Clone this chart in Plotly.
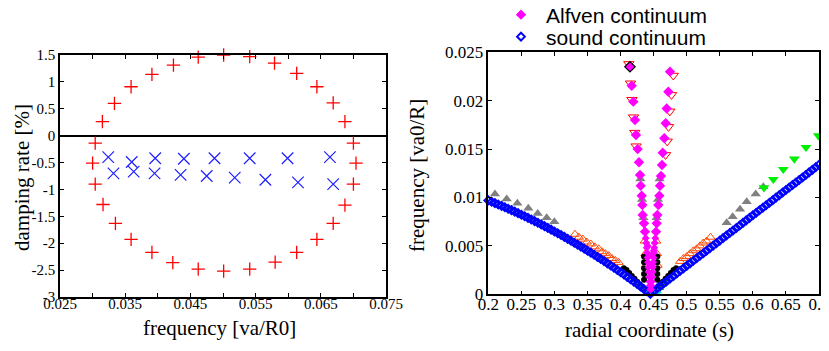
import plotly.graph_objects as go

# ---------------- left panel: damping rate vs frequency ----------------
ellipse_freq = [0.0315, 0.03335, 0.0359, 0.0391, 0.0424, 0.0462, 0.0501, 0.0541, 0.0579, 0.0613,
                0.0644, 0.0669, 0.0687,
                0.0304, 0.0300, 0.0304, 0.0700, 0.0704, 0.0700,
                0.0316, 0.0335, 0.0359, 0.0391, 0.0423, 0.0462, 0.0501, 0.0541, 0.0580, 0.0613,
                0.0644, 0.0669, 0.0687]
ellipse_damp = [0.26, 0.60, 0.91, 1.14, 1.31, 1.46, 1.50, 1.47, 1.35, 1.16,
                0.91, 0.61, 0.26,
                -0.14, -0.51, -0.90, -0.14, -0.51, -0.90,
                -1.28, -1.63, -1.93, -2.17, -2.36, -2.48, -2.52, -2.48, -2.35, -2.17,
                -1.93, -1.63, -1.29]

xmode_freq = [0.0324, 0.0360, 0.0396, 0.0440, 0.0487, 0.0541, 0.0599, 0.0664,
              0.0332, 0.0363, 0.0395, 0.0435, 0.0475, 0.0518, 0.0565, 0.0615, 0.0669]
xmode_damp = [-0.40, -0.49, -0.42, -0.43, -0.42, -0.42, -0.42, -0.40,
              -0.70, -0.67, -0.70, -0.73, -0.75, -0.78, -0.82, -0.87, -0.90]

left_xticks = [0.025, 0.03, 0.035, 0.04, 0.045, 0.05, 0.055, 0.06, 0.065, 0.07, 0.075]
left_xlabels = ["0.025", "", "0.035", "", "0.045", "", "0.055", "", "0.065", "", "0.075"]
left_yticks = [-3, -2.5, -2, -1.5, -1, -0.5, 0, 0.5, 1, 1.5]
left_ylabels = ["-3", "-2.5", "-2", "-1.5", "-1", "-0.5", "0", "0.5", "1", "1.5"]

# ---------------- right panel: continua vs radial coordinate ----------------
sound_s = [0.200, 0.205, 0.210, 0.215, 0.220, 0.225, 0.230, 0.235, 0.240, 0.245,
           0.250, 0.255, 0.260, 0.265, 0.270, 0.275, 0.280, 0.285, 0.290, 0.295,
           0.300, 0.305, 0.310, 0.315, 0.320, 0.325, 0.330, 0.335, 0.340, 0.345,
           0.350, 0.355, 0.360, 0.365, 0.370, 0.375, 0.380, 0.385, 0.390, 0.395,
           0.400, 0.405, 0.410, 0.415, 0.420, 0.425, 0.430, 0.435, 0.440, 0.445,
           0.450, 0.455, 0.460, 0.465, 0.470, 0.475, 0.480, 0.485, 0.490, 0.495,
           0.500, 0.505, 0.510, 0.515, 0.520, 0.525, 0.530, 0.535, 0.540, 0.545,
           0.550, 0.555, 0.560, 0.565, 0.570, 0.575, 0.580, 0.585, 0.590, 0.595,
           0.600, 0.605, 0.610, 0.615, 0.620, 0.625, 0.630, 0.635, 0.640, 0.645,
           0.650, 0.655, 0.660, 0.665, 0.670, 0.675, 0.680, 0.685, 0.690, 0.695, 0.700]
sound_f = [0.00970, 0.00956, 0.00942, 0.00928, 0.00914, 0.00899, 0.00884, 0.00869, 0.00854, 0.00838,
           0.00822, 0.00806, 0.00790, 0.00773, 0.00756, 0.00739, 0.00722, 0.00704, 0.00686, 0.00668,
           0.00649, 0.00631, 0.00612, 0.00593, 0.00573, 0.00553, 0.00533, 0.00513, 0.00493, 0.00472,
           0.00451, 0.00430, 0.00408, 0.00387, 0.00365, 0.00343, 0.00320, 0.00297, 0.00274, 0.00251,
           0.00228, 0.00204, 0.00180, 0.00156, 0.00131, 0.00106, 0.00081, 0.00056, 0.00031, 0.00005,
           0.00033, 0.00059, 0.00085, 0.00111, 0.00137, 0.00163, 0.00189, 0.00216, 0.00242, 0.00268,
           0.00294, 0.00320, 0.00346, 0.00372, 0.00398, 0.00424, 0.00450, 0.00477, 0.00503, 0.00529,
           0.00555, 0.00581, 0.00607, 0.00633, 0.00659, 0.00685, 0.00711, 0.00738, 0.00764, 0.00790,
           0.00816, 0.00842, 0.00868, 0.00894, 0.00920, 0.00946, 0.00972, 0.00999, 0.01025, 0.01051,
           0.01077, 0.01103, 0.01129, 0.01155, 0.01181, 0.01207, 0.01233, 0.01260, 0.01286, 0.01312, 0.01338]

alfven_s = [0.4142, 0.4168, 0.4193, 0.4218, 0.4233, 0.4258, 0.4278, 0.4294, 0.4304, 0.4319,
            0.4329, 0.4334, 0.4354, 0.4369,
            0.4747, 0.4722, 0.4697, 0.4682, 0.4661, 0.4637, 0.4626, 0.4611, 0.4596, 0.4586,
            0.4571, 0.4555, 0.4546, 0.4536]
alfven_f = [0.02350, 0.02155, 0.01990, 0.01800, 0.01646, 0.01500, 0.01364, 0.01232, 0.01122, 0.01019,
            0.00922, 0.00819, 0.00733, 0.00647,
            0.02300, 0.02093, 0.01920, 0.01767, 0.01612, 0.01463, 0.01336, 0.01222, 0.01122, 0.01019,
            0.00922, 0.00819, 0.00733, 0.00647]
alfven_dense_s = [0.4380, 0.4388, 0.4395, 0.4401, 0.4408, 0.4414, 0.4420, 0.4427, 0.4433, 0.4439,
                  0.4444, 0.4450, 0.4525, 0.4517, 0.4510, 0.4504, 0.4498, 0.4492, 0.4487, 0.4481,
                  0.4476, 0.4471, 0.4466, 0.4461, 0.4410, 0.4440, 0.4470, 0.4500]
alfven_dense_f = [0.0058, 0.0053, 0.0048, 0.0043, 0.0038, 0.0033, 0.0028, 0.0023, 0.0018, 0.0013,
                  0.0009, 0.0005, 0.0058, 0.0053, 0.0048, 0.0043, 0.0038, 0.0033, 0.0028, 0.0023,
                  0.0018, 0.0013, 0.0009, 0.0005, 0.0050, 0.0040, 0.0030, 0.0045]

redtri_s = [0.4125, 0.4150, 0.4172, 0.4195, 0.4215, 0.4235,
            0.4797, 0.4770, 0.4745, 0.4725, 0.4705, 0.4680]
redtri_f = [0.0238, 0.0218, 0.0201, 0.0183, 0.0167, 0.0153,
            0.0226, 0.0206, 0.0189, 0.0173, 0.0158, 0.0144]

gray_s = [0.2101, 0.2278, 0.2439, 0.2605, 0.2747, 0.2883, 0.2998,
          0.5604, 0.5695, 0.5806, 0.5907, 0.6043, 0.6158,
          0.4300, 0.4325, 0.4345, 0.4590, 0.4565, 0.4545]
gray_f = [0.01036, 0.00984, 0.00940, 0.00888, 0.00836, 0.00792, 0.00750,
          0.00740, 0.00800, 0.00878, 0.00957, 0.01036, 0.01112,
          0.01190, 0.00980, 0.00790, 0.01190, 0.00980, 0.00790]

green_s = [0.6168, 0.6309, 0.6460, 0.6627, 0.6803, 0.6990]
green_f = [0.01101, 0.01188, 0.01291, 0.01398, 0.01519, 0.01639]

orange_s = [0.331, 0.337, 0.343, 0.349, 0.355, 0.361, 0.367, 0.372, 0.377, 0.382, 0.387, 0.392, 0.397,
            0.490, 0.495, 0.500, 0.505, 0.510, 0.515, 0.520, 0.525, 0.530, 0.536,
            0.4365, 0.4375, 0.4385, 0.4540, 0.4550, 0.4560]
orange_f = [0.0062, 0.0059, 0.0057, 0.0054, 0.0052, 0.0049, 0.0047, 0.0044, 0.0042, 0.0040, 0.0037, 0.0035, 0.0033,
            0.0034, 0.0037, 0.0039, 0.0042, 0.0045, 0.0047, 0.0050, 0.0053, 0.0055, 0.0059,
            0.0055, 0.0042, 0.0030, 0.0055, 0.0042, 0.0030]

black_s = [0.405, 0.409, 0.413, 0.417, 0.421, 0.425, 0.429, 0.433,
           0.456, 0.460, 0.464, 0.468, 0.472, 0.476, 0.480, 0.484,
           0.4355, 0.4355, 0.4355, 0.4355, 0.4355,
           0.4555, 0.4555, 0.4555, 0.4555, 0.4555]
black_f = [0.0027, 0.0025, 0.0022, 0.0019, 0.0016, 0.0013, 0.0010, 0.0007,
           0.0007, 0.0010, 0.0013, 0.0016, 0.0019, 0.0022, 0.0025, 0.0027,
           0.0015, 0.0021, 0.0027, 0.0033, 0.0039,
           0.0015, 0.0021, 0.0027, 0.0033, 0.0039]

teal_s = [0.424, 0.428, 0.432, 0.436, 0.440, 0.457, 0.461, 0.465, 0.469]
teal_f = [0.0012, 0.0009, 0.0006, 0.0004, 0.0002, 0.0003, 0.0006, 0.0009, 0.0012]

cyan_s = [0.4390, 0.4415, 0.4440, 0.4465, 0.4490, 0.4515, 0.4540, 0.4560]
cyan_f = [0.0003, 0.0002, 0.0001, 0.00005, 0.00005, 0.0001, 0.0002, 0.0003]

marked_s = [0.4142]
marked_f = [0.02350]

right_xticks = [0.2, 0.25, 0.3, 0.35, 0.4, 0.45, 0.5, 0.55, 0.6, 0.65, 0.7]
right_xlabels = ["0.2", "0.25", "0.3", "0.35", "0.4", "0.45", "0.5", "0.55", "0.6", "0.65", "0.7"]
right_yticks = [0, 0.005, 0.01, 0.015, 0.02, 0.025]
right_ylabels = ["0", "0.005", "0.01", "0.015", "0.02", "0.025"]

# ---------------- figure ----------------
# page body has an 8px margin: figure is drawn 8px right/down of the window origin
OFF = 8
W, H = 829 - OFF, 351 - OFF
SERIF = "Liberation Serif"
SANS = "Liberation Sans"


def X(p):
    return (p - OFF) / W


def Y(p):
    return 1 - (p - OFF) / H


fig = go.Figure()

fig.add_trace(go.Scatter(x=ellipse_freq, y=ellipse_damp, mode="markers", xaxis="x", yaxis="y",
                         showlegend=False, cliponaxis=False,
                         marker=dict(symbol="cross-thin", size=9.5, color="#ff0000",
                                     line=dict(color="#ff0000", width=1.3))))
fig.add_trace(go.Scatter(x=xmode_freq, y=xmode_damp, mode="markers", xaxis="x", yaxis="y",
                         showlegend=False,
                         marker=dict(symbol="x-thin", size=11.5, color="#1f1fff",
                                     line=dict(color="#1f1fff", width=1.2))))


def add_r(xs, ys, **kw):
    fig.add_trace(go.Scatter(x=xs, y=ys, mode="markers", xaxis="x2", yaxis="y2", **kw))


add_r(gray_s, gray_f, showlegend=False,
      marker=dict(symbol="triangle-up", size=9, color="#808080"))
add_r(green_s, green_f, showlegend=False,
      marker=dict(symbol="triangle-down", size=9.5, color="#00ee00"))
add_r(orange_s, orange_f, showlegend=False,
      marker=dict(symbol="triangle-up-open", size=8, color="#ff4500", line=dict(width=1)))
add_r(redtri_s, redtri_f, showlegend=False,
      marker=dict(symbol="triangle-down-open", size=9, color="#ff0000", line=dict(width=1)))
add_r(black_s, black_f, showlegend=False,
      marker=dict(symbol="circle", size=6, color="#000000"))
add_r(teal_s, teal_f, showlegend=False,
      marker=dict(symbol="triangle-up", size=6, color="#2e8b57"))
add_r(cyan_s, cyan_f, showlegend=False, cliponaxis=False,
      marker=dict(symbol="triangle-up", size=7, color="#00e5e5"))
add_r(sound_s, sound_f, name="sound continuum", legend="legend2", cliponaxis=False,
      marker=dict(symbol="diamond-open", size=6, color="#0000ff", line=dict(width=2)))
add_r(alfven_dense_s, alfven_dense_f, showlegend=False,
      marker=dict(symbol="diamond", size=6, color="#ff00ff"))
add_r(alfven_s, alfven_f, name="Alfven continuum", legend="legend",
      marker=dict(symbol="diamond", size=8, color="#ff00ff"))
add_r(marked_s, marked_f, showlegend=False,
      marker=dict(symbol="diamond-open", size=8, color="#000000", line=dict(width=1.2)))

axis_common = dict(showline=True, linecolor="black", linewidth=1.5, mirror="allticks",
                   ticks="inside", ticklen=4, tickcolor="black", tickwidth=1,
                   showgrid=False, zeroline=False, automargin=False, ticklabeloverflow="allow")

legend_common = dict(xanchor="left", yanchor="middle", bgcolor="rgba(0,0,0,0)", borderwidth=0,
                     itemwidth=40, font=dict(family=SANS, size=21, color="black"))

title_font = dict(family=SERIF, size=21, color="black")

fig.update_layout(
    width=W, height=H,
    margin=dict(l=0, r=0, t=0, b=0, autoexpand=False),
    paper_bgcolor="white", plot_bgcolor="white",
    xaxis=dict(domain=[X(60), X(386)], anchor="y", range=[0.025, 0.075],
               tickmode="array", tickvals=left_xticks, ticktext=left_xlabels,
               ticklabelstandoff=-8,
               tickfont=dict(family=SERIF, size=15, color="black"), **axis_common),
    yaxis=dict(domain=[Y(297), Y(55)], anchor="x", range=[-3, 1.5],
               tickmode="array", tickvals=left_yticks, ticktext=left_ylabels,
               tickfont=dict(family=SERIF, size=15, color="black"),
               **{**axis_common, "zeroline": True}, zerolinecolor="black", zerolinewidth=2.2),
    xaxis2=dict(domain=[X(488.3), X(819)], anchor="y2", range=[0.2, 0.7],
                tickmode="array", tickvals=right_xticks, ticktext=right_xlabels,
                ticklabelstandoff=-6,
                tickfont=dict(family=SERIF, size=17, color="black"), **axis_common),
    yaxis2=dict(domain=[Y(294.3), Y(52.3)], anchor="x2", range=[0, 0.025],
                tickmode="array", tickvals=right_yticks, ticktext=right_ylabels,
                tickfont=dict(family=SERIF, size=17, color="black"), **axis_common),
    legend=dict(x=X(496), y=Y(15), **legend_common),
    legend2=dict(x=X(496), y=Y(37), **legend_common),
    annotations=[
        dict(text="damping rate [%]", x=X(22), y=Y(178), xref="paper", yref="paper",
             xanchor="center", yanchor="middle", textangle=-90, showarrow=False, font=title_font),
        dict(text="frequency [va/R0]", x=X(220), y=Y(328), xref="paper", yref="paper",
             xanchor="center", yanchor="middle", showarrow=False, font=title_font),
        dict(text="frequency [va0/R]", x=X(417), y=Y(176), xref="paper", yref="paper",
             xanchor="center", yanchor="middle", textangle=-90, showarrow=False, font=title_font),
        dict(text="radial coordinate (s)", x=X(649), y=Y(330), xref="paper", yref="paper",
             xanchor="center", yanchor="middle", showarrow=False, font=title_font),
    ],
)

fig.write_html("out.html")
